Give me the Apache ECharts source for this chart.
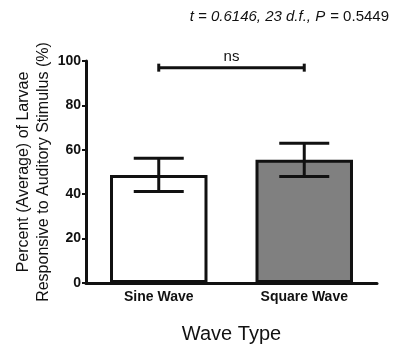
<!DOCTYPE html>
<html>
<head>
<meta charset="utf-8">
<script src="https://cdn.jsdelivr.net/npm/echarts@6/dist/echarts.min.js"></script>
<style>
  html, body { margin: 0; padding: 0; background: #fff; }
  #chart { width: 397px; height: 346px; }
</style>
</head>
<body>
<div id="chart"></div>
<script>
// 数据
const categories = ['Sine Wave', 'Square Wave']
const means = [48.7, 55.5]
const errLow = [41.2, 48.0]
const errHigh = [56.2, 63.0]
const barColors = ['#ffffff', '#808080']
const sigPair = [0, 1]
const sigLevel = 97
const sigLabel = 'ns'

const chart = echarts.init(document.getElementById('chart'))

const font = 'Liberation Sans, Arial, sans-serif'

const option = {
  animation: false,
  title: {
    text: '{i|t = 0.6146, 23 d.f., P} {n|= 0.5449}',
    right: 3,
    top: 3,
    textStyle: {
      fontWeight: 'normal',
      rich: {
        i: { fontStyle: 'italic', fontWeight: 'normal', fontSize: 15, fontFamily: font, color: '#111' },
        n: { fontWeight: 'normal', fontSize: 15, fontFamily: font, color: '#111' }
      }
    }
  },
  grid: { left: 86, right: 20, top: 61, bottom: 63, outerBoundsMode: 'none' },
  xAxis: {
    type: 'category',
    data: categories,
    name: 'Wave Type',
    nameLocation: 'middle',
    nameGap: 41,
    nameMoveOverlap: false,
    nameTextStyle: { fontSize: 20, fontFamily: font, color: '#111' },
    axisLine: { lineStyle: { color: '#111', width: 3 } },
    axisTick: { alignWithLabel: true, length: 3, lineStyle: { color: '#111', width: 2 } },
    axisLabel: { fontSize: 14, fontWeight: 'bold', fontFamily: font, color: '#111', margin: 7 }
  },
  yAxis: {
    type: 'value',
    min: 0,
    max: 100,
    interval: 20,
    name: 'Percent (Average) of Larvae\nResponsive to Auditory Stimulus (%)',
    nameLocation: 'middle',
    nameGap: 32,
    nameMoveOverlap: false,
    nameTextStyle: { fontSize: 16, lineHeight: 20, fontFamily: font, color: '#111' },
    axisLine: { show: true, lineStyle: { color: '#111', width: 3 } },
    axisTick: { show: true, length: 4, lineStyle: { color: '#111', width: 2 } },
    axisLabel: { fontSize: 14, fontWeight: 'bold', fontFamily: font, color: '#111', margin: 5 },
    splitLine: { show: false }
  },
  series: [
    {
      type: 'bar',
      barWidth: '67%',
      data: means.map((v, i) => ({
        value: v,
        itemStyle: { color: barColors[i], borderColor: '#111', borderWidth: 3 }
      }))
    },
    {
      // 误差线
      type: 'custom',
      data: categories.map((c, i) => [i, errLow[i], errHigh[i]]),
      renderItem: (params, api) => {
        const lo = api.coord([api.value(0), api.value(1)])
        const hi = api.coord([api.value(0), api.value(2)])
        const half = 25
        const style = { stroke: '#111', lineWidth: 3 }
        return {
          type: 'group',
          children: [
            { type: 'line', shape: { x1: lo[0], y1: lo[1], x2: hi[0], y2: hi[1] }, style },
            { type: 'line', shape: { x1: hi[0] - half, y1: hi[1], x2: hi[0] + half, y2: hi[1] }, style },
            { type: 'line', shape: { x1: lo[0] - half, y1: lo[1], x2: lo[0] + half, y2: lo[1] }, style }
          ]
        }
      },
      z: 5
    },
    {
      // 显著性标记
      type: 'custom',
      data: [[sigPair[0], sigPair[1], sigLevel]],
      renderItem: (params, api) => {
        const a = api.coord([api.value(0), api.value(2)])
        const b = api.coord([api.value(1), api.value(2)])
        const style = { stroke: '#111', lineWidth: 3 }
        return {
          type: 'group',
          children: [
            { type: 'line', shape: { x1: a[0], y1: a[1], x2: b[0], y2: b[1] }, style },
            { type: 'line', shape: { x1: a[0], y1: a[1] - 4, x2: a[0], y2: a[1] + 4 }, style },
            { type: 'line', shape: { x1: b[0], y1: b[1] - 4, x2: b[0], y2: b[1] + 4 }, style },
            {
              type: 'text',
              style: {
                x: (a[0] + b[0]) / 2, y: a[1] - 3,
                text: sigLabel, align: 'center', verticalAlign: 'bottom',
                fontSize: 15, fontFamily: font, fill: '#111'
              }
            }
          ]
        }
      },
      z: 5
    }
  ]
}

chart.setOption(option)
</script>
</body>
</html>
